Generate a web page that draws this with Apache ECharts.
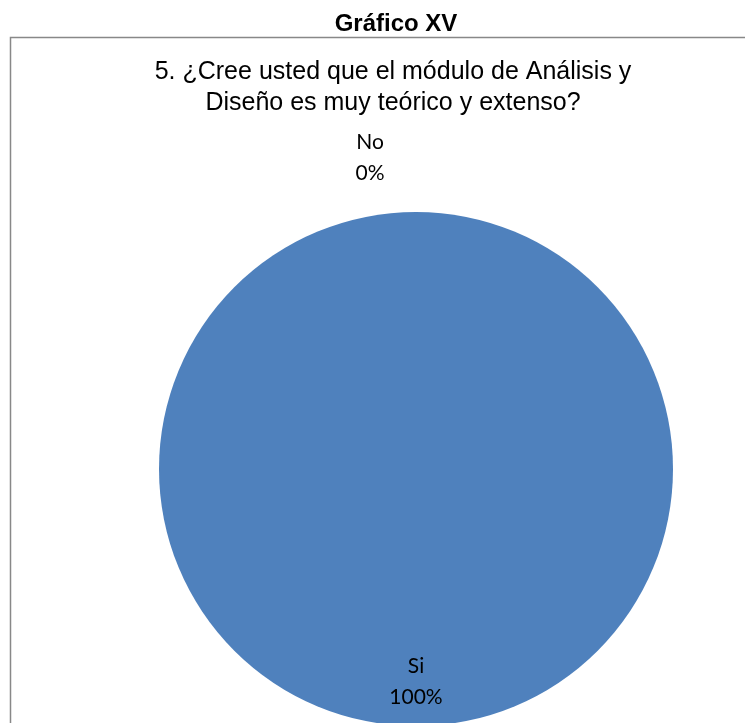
<!DOCTYPE html>
<html>
<head>
<meta charset="utf-8">
<script src="https://cdn.jsdelivr.net/npm/echarts@6/dist/echarts.min.js"></script>
<style>
html,body{margin:0;padding:0;background:#fff;}
#main{width:745px;height:723px;}
</style>
</head>
<body>
<div id="main"></div>
<script>
const pageTitle = 'Gráfico XV';
const chartTitle = '5. ¿Cree usted que el módulo de Análisis y\nDiseño es muy teórico y extenso?';
const categories = ['Si', 'No'];
const values = [100, 0];

const chart = echarts.init(document.getElementById('main'));
chart.setOption({
  animation: false,
  backgroundColor: '#ffffff',
  graphic: [{
    type: 'rect',
    shape: { x: 10.5, y: 37.5, width: 760, height: 720 },
    style: { fill: 'none', stroke: '#888888', lineWidth: 1.5 },
    z: -1
  }],
  title: [{
    text: pageTitle,
    left: 391, top: 7, textAlign: 'center',
    textStyle: { fontFamily: 'Liberation Sans', fontWeight: 'bold', fontSize: 24, color: '#000' }
  }, {
    text: chartTitle,
    left: 388, top: 52, textAlign: 'center',
    textStyle: { fontFamily: 'Liberation Sans', fontWeight: 'normal', fontSize: 25, lineHeight: 31, color: '#000' }
  }],
  series: [{
    type: 'pie',
    center: [416, 469],
    radius: 257,
    startAngle: 90,
    clockwise: true,
    data: categories.map((c, i) => ({ name: c, value: values[i] })),
    color: ['#4F81BD', '#C0504D'],
    itemStyle: { borderWidth: 0 },
    label: {
      show: true,
      formatter: '{b}\n{d}%',
      fontFamily: 'Lato',
      fontSize: 21,
      lineHeight: 31,
      color: '#000',
      position: 'inside'
    },
    labelLine: { show: false },
    labelLayout: function (p) {
      if (p.dataIndex === 0) {
        return { dy: 81 };
      }
      return { dy: -(p.labelRect.y + p.labelRect.height / 2 - 158), align: 'center', dx: -46 };
    }
  }]
});
</script>
</body>
</html>
